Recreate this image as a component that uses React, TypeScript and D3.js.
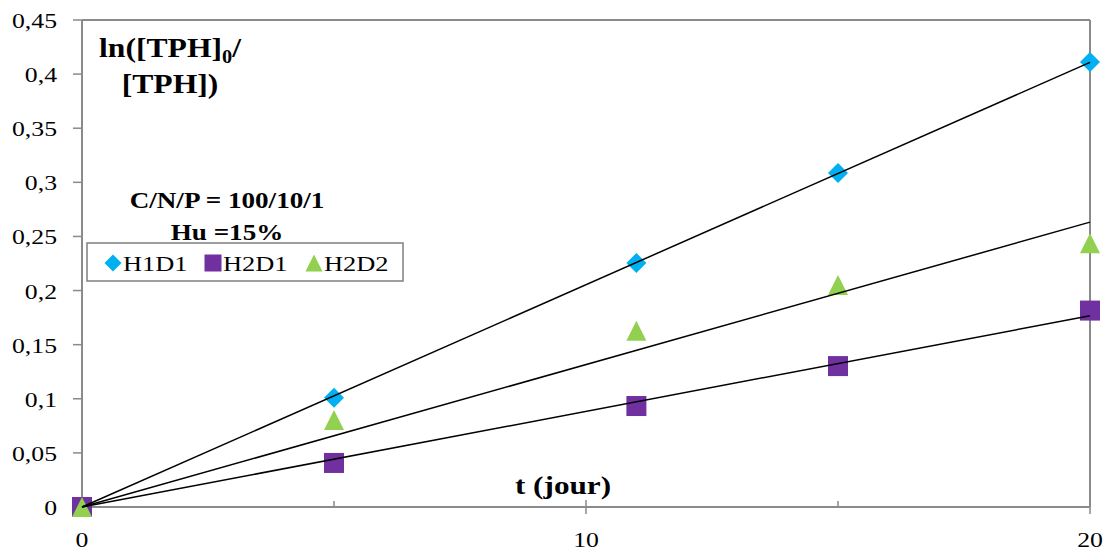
import React from "react";
import * as d3 from "d3";

const days = [0, 5, 11, 15, 20];
const h1d1 = [0, 0.101, 0.2255, 0.3086, 0.4112];
const h2d1 = [0, 0.0407, 0.0933, 0.1302, 0.1815];
const h2d2 = [0, 0.0805, 0.1628, 0.2052, 0.2438];
const seriesNames = ["H1D1", "H2D1", "H2D2"];
const seriesColors = ["#00B0F0", "#7030A0", "#92D050"];
const yTicks = [0, 0.05, 0.1, 0.15, 0.2, 0.25, 0.3, 0.35, 0.4, 0.45];
const xMajor = [0, 10, 20];
const xMinor = [5, 15];

const W = 1113;
const H = 551;
const M = { left: 82, right: 1090, top: 20, bottom: 507 };
const SERIF = "'Liberation Serif', 'Times New Roman', serif";
const AXIS = "#8a8a8a";

function marker(kind: number, cx: number, cy: number, s: number, color: string, key: string) {
  const h = s / 2;
  if (kind === 0) {
    const p = `M${cx},${cy - h}L${cx + h},${cy}L${cx},${cy + h}L${cx - h},${cy}Z`;
    return <path key={key} d={p} fill={color} />;
  }
  if (kind === 1) {
    return <rect key={key} x={cx - h} y={cy - h} width={s} height={s} fill={color} />;
  }
  const p = `M${cx},${cy - h}L${cx + h},${cy + h}L${cx - h},${cy + h}Z`;
  return <path key={key} d={p} fill={color} />;
}

function fmt(v: number) {
  return d3.format("")(+v.toFixed(2)).replace(".", ",");
}

function SText(props: { x: number; y: number; sx: number; anchor?: string; size: number; bold?: boolean; children: React.ReactNode }) {
  const { x, y, sx, anchor, size, bold, children } = props;
  return (
    <text
      transform={`translate(${x},${y}) scale(${sx},1)`}
      textAnchor={anchor || "start"}
      fontFamily={SERIF}
      fontSize={size}
      fontWeight={bold ? "bold" : "normal"}
      fill="#000"
    >
      {children}
    </text>
  );
}

export default function App() {
  const x = d3.scaleLinear().domain([0, 20]).range([M.left, M.right]);
  const y = d3.scaleLinear().domain([0, 0.45]).range([M.bottom, M.top]);
  const all = [h1d1, h2d1, h2d2];

  // least-squares trend lines through the origin
  const slopes = all.map((ys) => d3.sum(days, (d, i) => d * ys[i]) / d3.sum(days, (d) => d * d));
  const line = d3
    .line<number>()
    .x((d) => x(d))
    .y((d, i, arr) => 0);

  return (
    <svg width={W} height={H} style={{ position: "absolute", left: 0, top: 0, background: "#fff" }}>
      <rect x={0} y={0} width={W} height={H} fill="#fff" />
      {/* frame */}
      <line x1={M.left} x2={M.right} y1={M.top} y2={M.top} stroke={AXIS} strokeWidth={2} />
      <line x1={M.right} x2={M.right} y1={M.top} y2={M.bottom} stroke={AXIS} strokeWidth={2} />
      <line x1={M.left} x2={M.left} y1={M.top} y2={M.bottom} stroke={AXIS} strokeWidth={2} />
      <line x1={M.left} x2={M.right} y1={M.bottom} y2={M.bottom} stroke={AXIS} strokeWidth={2} />
      {/* y ticks */}
      {yTicks.map((t) => (
        <g key={"y" + t}>
          <line x1={M.left - 9} x2={M.left} y1={y(t)} y2={y(t)} stroke={AXIS} strokeWidth={1.5} />
          <SText x={M.left - 25} y={y(t) + 8} sx={1.17} anchor="end" size={22}>
            {fmt(t)}
          </SText>
        </g>
      ))}
      {/* x ticks */}
      {xMajor.map((t) => (
        <g key={"x" + t}>
          <line x1={x(t)} x2={x(t)} y1={M.bottom - 7} y2={M.bottom + 7} stroke={AXIS} strokeWidth={1.5} />
          <SText x={x(t)} y={547} sx={1.17} anchor="middle" size={22}>
            {String(t)}
          </SText>
        </g>
      ))}
      {xMinor.map((t) => (
        <line key={"xm" + t} x1={x(t)} x2={x(t)} y1={M.bottom - 6} y2={M.bottom} stroke={AXIS} strokeWidth={1.5} />
      ))}
      {/* markers */}
      {all.map((ys, si) => (
        <g key={"s" + si}>
          {days.map((d, i) => marker(si, x(d), y(ys[i]), 20, seriesColors[si], `m${si}-${i}`))}
        </g>
      ))}
      {/* trend lines */}
      {slopes.map((m, si) => {
        const path = d3
          .line<number>()
          .x((d) => x(d))
          .y((d) => y(m * d))([0, 20]);
        return <path key={"t" + si} d={path || ""} stroke="#000" strokeWidth={1.5} fill="none" />;
      })}
      {/* titles */}
      <text
        transform={`translate(170,57) scale(1.13,1)`}
        textAnchor="middle"
        fontFamily={SERIF}
        fontSize={28}
        fontWeight="bold"
      >
        ln([TPH]
        <tspan fontSize={18} dy={6}>0</tspan>
        <tspan dy={-6}>/</tspan>
      </text>
      <SText x={170} y={93} sx={1.13} anchor="middle" size={28} bold>
        [TPH])
      </SText>
      <SText x={227} y={208} sx={1.13} anchor="middle" size={24} bold>
        C/N/P = 100/10/1
      </SText>
      <SText x={227} y={240} sx={1.13} anchor="middle" size={24} bold>
        Hu =15%
      </SText>
      <SText x={563} y={494} sx={1.2} anchor="middle" size={26} bold>
        t (jour)
      </SText>
      {/* legend */}
      <rect x={87} y={243} width={316} height={38} fill="#fff" stroke="#7f7f7f" strokeWidth={1.5} />
      {seriesNames.map((n, i) => {
        const mx = [113, 213, 314][i];
        return (
          <g key={"l" + n}>
            {marker(i, mx, 263, 17, seriesColors[i], "lm" + i)}
            <SText x={mx + 10} y={271} sx={1.2} size={22}>
              {n}
            </SText>
          </g>
        );
      })}
    </svg>
  );
}
